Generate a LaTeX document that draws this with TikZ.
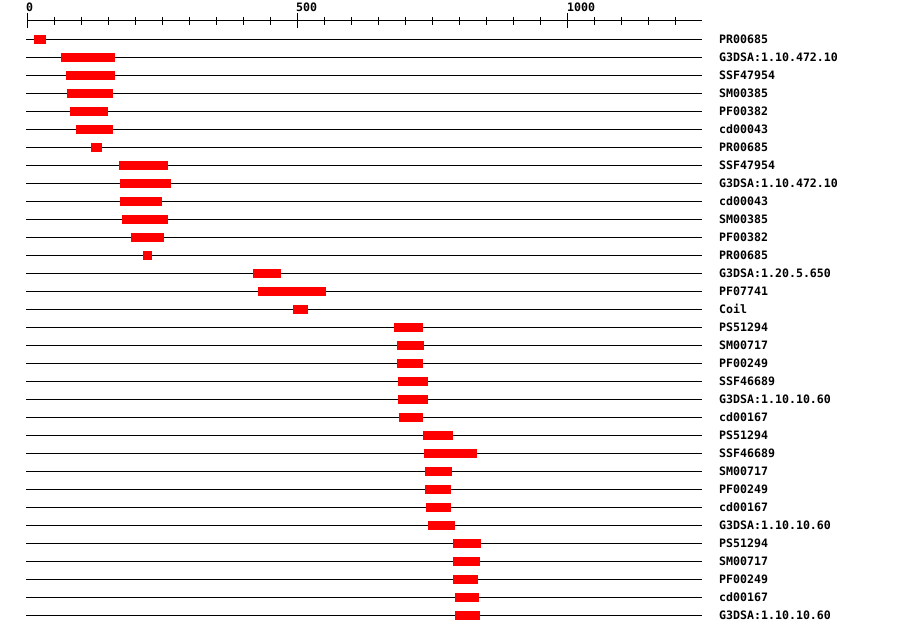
\documentclass[tikz,border=0pt]{standalone}
\usepackage{fontspec}
\setmonofont{DejaVu Sans Mono}
\tikzset{
  rowline/.style={line width=1pt, black},
  bar/.style={fill=red, draw=none},
  lab/.style={anchor=base west, inner sep=0pt, font=\ttfamily\bfseries\fontsize{11.6}{12}\selectfont},
  axlab/.style={anchor=base west, inner sep=0pt, font=\ttfamily\bfseries\fontsize{11.6}{12}\selectfont},
  axline/.style={line width=1pt, black}
}
\begin{document}
\begin{tikzpicture}[x=1pt,y=-1pt]
\useasboundingbox (0,0) rectangle (900,634);
\fill[white] (0,0) rectangle (900,634);
% axis
\draw[axline] (27,21) -- (702,21);
\foreach \k in {1,...,24}{
  \draw[axline] ({27+27*\k},17) -- ({27+27*\k},25);
}
\foreach \k in {0,10,20}{
  \draw[axline] ({27+27*\k},13) -- ({27+27*\k},28);
}
\node[axlab] (t0) at (26,12) {0};
\node[axlab] (t500) at (296,12) {500};
\node[axlab] (t1000) at (567,12) {1000};
% rows
\foreach \i/\lbl/\xa/\xb in {
 0/PR00685/34/46,
 1/G3DSA:1.10.472.10/61/115,
 2/SSF47954/66/115,
 3/SM00385/67/113,
 4/PF00382/70/108,
 5/cd00043/76/113,
 6/PR00685/91/102,
 7/SSF47954/119/168,
 8/G3DSA:1.10.472.10/120/171,
 9/cd00043/120/162,
 10/SM00385/122/168,
 11/PF00382/131/164,
 12/PR00685/143/152,
 13/G3DSA:1.20.5.650/253/281,
 14/PF07741/258/326,
 15/Coil/293/308,
 16/PS51294/394/423,
 17/SM00717/397/424,
 18/PF00249/397/423,
 19/SSF46689/398/428,
 20/G3DSA:1.10.10.60/398/428,
 21/cd00167/399/423,
 22/PS51294/423/453,
 23/SSF46689/424/477,
 24/SM00717/425/452,
 25/PF00249/425/451,
 26/cd00167/426/451,
 27/G3DSA:1.10.10.60/428/455,
 28/PS51294/453/481,
 29/SM00717/453/480,
 30/PF00249/453/478,
 31/cd00167/455/479,
 32/G3DSA:1.10.10.60/455/480}{
  \pgfmathsetmacro{\yy}{39.5+18*\i}
  \draw[rowline] (26,\yy) -- (702,\yy);
  \fill[bar] (\xa,\yy-4.5) rectangle (\xb,\yy+4.5);
  \node[lab] (l\i) at (719,\yy+3.6) {\lbl};
}
\end{tikzpicture}
\end{document}
